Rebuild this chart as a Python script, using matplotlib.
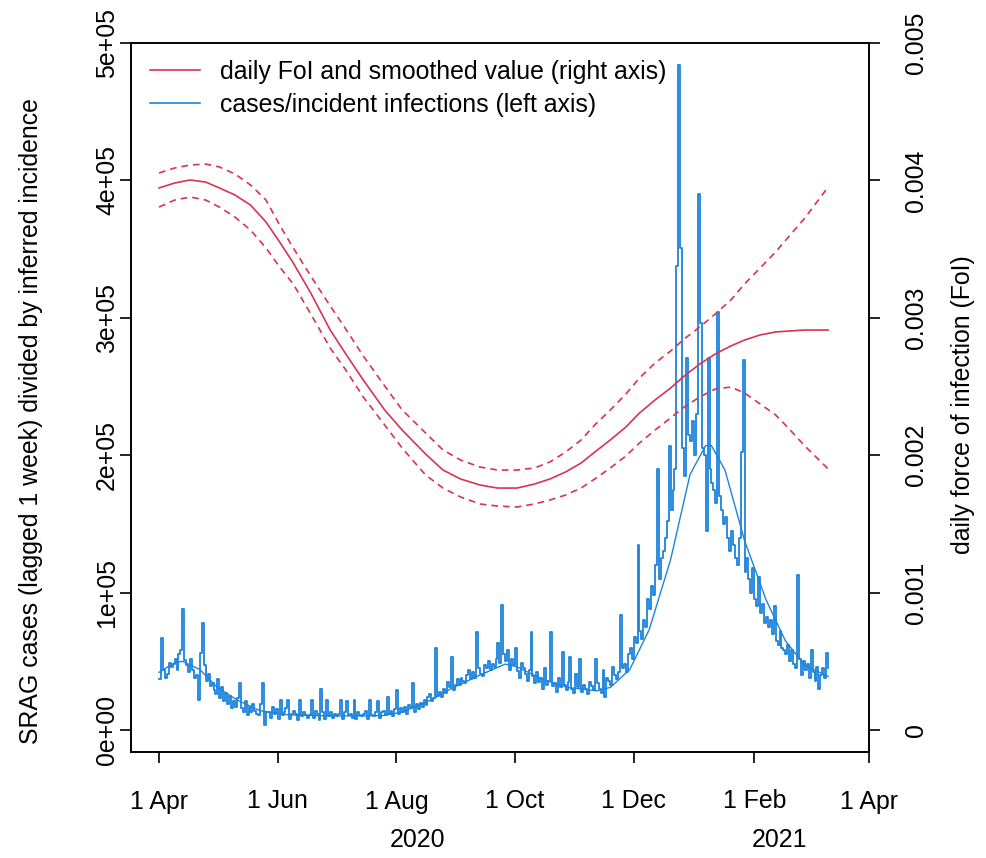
import numpy as np
import matplotlib
matplotlib.use("Agg")
import matplotlib.pyplot as plt
from matplotlib.lines import Line2D

plt.rcParams['font.family'] = ['Liberation Sans', 'DejaVu Sans']

# ---- data ----
start_date = np.datetime64('2020-04-01')

# daily SRAG cases / incident infections, in thousands, from 1 Apr 2020
ratio_k = [
    37, 67, 44, 38, 41, 49, 46,
    48, 52, 44, 55, 58, 88, 51,
    47, 42, 52, 44, 38, 40, 22,
    56, 78, 47, 36, 41, 32, 34,
    29, 26, 37, 23, 31, 21, 27,
    19, 25, 16, 21, 17, 23, 34,
    16, 13, 21, 11, 17, 13, 19,
    14, 12, 11, 19, 34, 4, 13,
    13, 9, 17, 12, 15, 8, 22,
    11, 13, 16, 22, 8, 12, 14,
    12, 7, 22, 10, 13, 11, 9,
    11, 22, 9, 14, 12, 7, 30,
    13, 8, 22, 10, 13, 9, 12,
    10, 12, 22, 8, 13, 21, 11,
    12, 9, 22, 8, 13, 11, 10,
    12, 14, 8, 22, 11, 10, 13,
    21, 9, 13, 14, 11, 24, 12,
    14, 10, 15, 29, 12, 16, 13,
    17, 12, 18, 16, 34, 13, 19,
    15, 20, 17, 22, 18, 24, 26,
    21, 23, 60, 25, 28, 24, 30,
    27, 35, 31, 53, 29, 33, 37,
    33, 38, 36, 34, 40, 44, 37,
    42, 38, 71, 45, 41, 39, 47,
    45, 50, 44, 48, 46, 52, 63,
    49, 91, 55, 50, 58, 44, 52,
    47, 60, 43, 38, 49, 45, 41,
    36, 44, 71, 39, 34, 42, 35,
    38, 30, 45, 33, 36, 71, 32,
    34, 28, 38, 31, 57, 33, 29,
    35, 53, 30, 27, 41, 31, 52,
    28, 33, 30, 26, 35, 32, 29,
    52, 34, 30, 27, 44, 24, 38,
    36, 33, 46, 40, 37, 42, 84,
    45, 48, 42, 55, 60, 52, 68,
    63, 135, 72, 66, 80, 75, 95,
    88, 105, 98, 120, 190, 110, 125,
    130, 140, 152, 207, 160, 175, 190,
    338, 484, 351, 205, 185, 271, 215,
    210, 225, 200, 230, 390, 296, 205,
    200, 145, 271, 190, 180, 175, 165,
    304, 170, 160, 150, 155, 140, 130,
    145, 135, 125, 120, 140, 202, 269,
    115, 125, 110, 100, 118, 95, 90,
    111, 85, 92, 78, 82, 75, 80,
    70, 90, 65, 62, 72, 60, 58,
    55, 62, 50, 58, 48, 45, 113,
    52, 40, 50, 44, 48, 38, 58,
    42, 36, 46, 30, 40, 45, 38,
    56, 45,
]

# smoothed ratio, thousands (day offset from 1 Apr 2020)
smooth_days = [0, 8, 12, 21, 30, 40, 52, 67, 80, 100, 115, 125, 140, 150, 165, 178,
               184, 197, 210, 225, 232, 242, 252, 263, 273, 281, 284, 291, 301, 312,
               322, 332, 344]
smooth_k = [42, 49, 50, 44, 31, 22, 14, 11, 10.5, 10.2, 10.5, 13, 22, 30, 40, 48,
            46, 37, 31, 28.5, 31, 44, 73, 124, 186, 207, 207, 189, 138, 95,
            65, 47, 39]

# daily force of infection: smoothed value and its bounds
foi_days = [0, 8, 16, 24, 31, 39, 47, 55, 62, 69, 78, 88, 96, 105, 116, 125, 137,
            146, 155, 165, 174, 184, 193, 201, 209, 217, 224, 232, 240, 247, 255,
            263, 270, 278, 286, 294, 301, 309, 317, 324, 332, 344]
foi_fit = [0.003945, 0.003981, 0.004003, 0.003988, 0.003945, 0.003894, 0.003821,
           0.003697, 0.003552, 0.003399, 0.003180, 0.002911, 0.002737, 0.002547,
           0.002329, 0.002183, 0.002009, 0.001892, 0.001827, 0.001783, 0.001761,
           0.001761, 0.001790, 0.001827, 0.001878, 0.001943, 0.002023, 0.002111,
           0.002205, 0.002307, 0.002402, 0.002489, 0.002576, 0.002664, 0.002737,
           0.002795, 0.002838, 0.002875, 0.002897, 0.002904, 0.002911, 0.002911]
foi_upper = [0.004054, 0.004090, 0.004112, 0.004119, 0.004098, 0.004047, 0.003967,
             0.003857, 0.003675, 0.003508, 0.003304, 0.003086, 0.002918, 0.002722,
             0.002504, 0.002329, 0.002162, 0.002038, 0.001965, 0.001914, 0.001892,
             0.001892, 0.001907, 0.001951, 0.002023, 0.002111, 0.002220, 0.002329,
             0.002445, 0.002562, 0.002671, 0.002758, 0.002846, 0.002933, 0.003028,
             0.003130, 0.003246, 0.003362, 0.003479, 0.003595, 0.003726, 0.003952]
foi_lower = [0.003806, 0.003857, 0.003879, 0.003857, 0.003806, 0.003734, 0.003639,
             0.003508, 0.003370, 0.003246, 0.003028, 0.002780, 0.002620, 0.002424,
             0.002220, 0.002052, 0.001856, 0.001761, 0.001696, 0.001645, 0.001630,
             0.001623, 0.001645, 0.001674, 0.001710, 0.001761, 0.001827, 0.001907,
             0.001994, 0.002089, 0.002183, 0.002271, 0.002351, 0.002424, 0.002482,
             0.002496, 0.002453, 0.002373, 0.002293, 0.002191, 0.002067, 0.001900]

left_ticks = [0, 1e5, 2e5, 3e5, 4e5, 5e5]
left_labels = ['0e+00', '1e+05', '2e+05', '3e+05', '4e+05', '5e+05']
right_ticks = [0, 0.001, 0.002, 0.003, 0.004, 0.005]
right_labels = ['0', '0.001', '0.002', '0.003', '0.004', '0.005']
x_ticks = ['2020-04-01', '2020-06-01', '2020-08-01', '2020-10-01',
           '2020-12-01', '2021-02-01', '2021-04-01']
x_labels = ['1 Apr', '1 Jun', '1 Aug', '1 Oct', '1 Dec', '1 Feb', '1 Apr']

RED = '#D8344F'
BLUE = '#1C84DC'
FS = 17.9

W, H = 987, 858
fig = plt.figure(figsize=(W / 100, H / 100), dpi=100)
L, R_, T, B = 131, 869, 43, 752
ax = fig.add_axes([L / W, 1 - B / H, (R_ - L) / W, (B - T) / H])
ax2 = ax.twinx()


def to_dates(days):
    return start_date + np.array(days).astype('timedelta64[D]')


ratio_dates = start_date + np.arange(len(ratio_k)).astype('timedelta64[D]')
ax.plot(ratio_dates, np.array(ratio_k) * 1000, color=BLUE, lw=1.3,
        drawstyle='steps-post')
ax.plot(to_dates(smooth_days), np.array(smooth_k) * 1000, color=BLUE, lw=1.0)

dash = (0, (4, 3))
ax2.plot(to_dates(foi_days), foi_fit, color=RED, lw=1.2)
ax2.plot(to_dates(foi_days), foi_upper, color=RED, lw=1.2, ls=dash)
ax2.plot(to_dates(foi_days), foi_lower, color=RED, lw=1.2, ls=dash)

x0 = np.datetime64('2020-04-01') - np.timedelta64(14, 'D') - np.timedelta64(10, 'h')
ax.set_xlim(x0, np.datetime64('2021-04-01'))
ax.set_ylim(-16000, 500000)
ax2.set_ylim(-0.00016, 0.005)

ax.set_xticks([np.datetime64(d) for d in x_ticks])
ax.set_xticklabels(x_labels, fontsize=FS)
ax.set_yticks(left_ticks)
ax.set_yticklabels(left_labels, fontsize=FS, rotation=90, va='center')
ax2.set_yticks(right_ticks)
ax2.set_yticklabels(right_labels, fontsize=FS, rotation=90, va='center')

for a in (ax, ax2):
    for s in a.spines.values():
        s.set_linewidth(1.2)
    a.tick_params(length=8, width=1.2)
ax.tick_params(axis='y', pad=0.5)
ax.tick_params(axis='x', pad=19)
ax2.tick_params(axis='y', pad=17)

fig.text(31 / W, 1 - 421 / H,
         'SRAG cases (lagged 1 week) divided by inferred incidence',
         fontsize=FS, rotation=90, ha='center', va='center')
fig.text(963 / W, 1 - 405 / H, 'daily force of infection (FoI)',
         fontsize=FS, rotation=90, ha='center', va='center')

fig.text(418 / W, 1 - 840 / H, '2020', fontsize=FS, ha='center', va='center')
fig.text(780 / W, 1 - 840 / H, '2021', fontsize=FS, ha='center', va='center')

handles = [Line2D([], [], color=RED, lw=1.2), Line2D([], [], color=BLUE, lw=1.2)]
ax.legend(handles, ['daily FoI and smoothed value (right axis)',
                    'cases/incident infections (left axis)'],
          loc='upper left', bbox_to_anchor=(150 / W, 1 - 60 / H),
          bbox_transform=fig.transFigure, frameon=False, fontsize=FS,
          handlelength=2.0, handletextpad=0.8, labelspacing=0.35,
          borderpad=0, borderaxespad=0)

fig.savefig('out.png', dpi=100)
